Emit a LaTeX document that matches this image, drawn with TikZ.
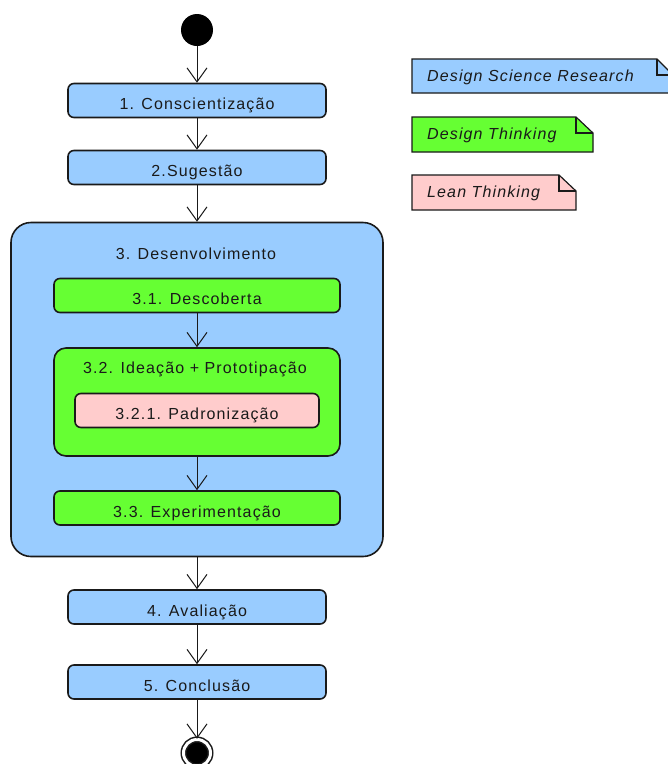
\documentclass[tikz,border=0pt]{standalone}
\usepackage{fontspec}
\setmainfont{Liberation Sans}[LetterSpace=7]
\usetikzlibrary{arrows.meta}
\definecolor{dsrblue}{HTML}{99CCFF}
\definecolor{dtgreen}{HTML}{66FF33}
\definecolor{ltpink}{HTML}{FFCCCC}
\definecolor{ink}{HTML}{1A1A1A}
\tikzset{
  act/.style={draw=ink, line width=1.6pt, rounded corners=6pt, minimum height=34pt,
    inner sep=0pt, text height=18pt, text depth=0pt, text=ink, font=\fontsize{16}{19}\selectfont},
  dsract/.style={act, fill=dsrblue, minimum width=258pt},
  dtact/.style={act, fill=dtgreen, minimum width=286pt},
  ltact/.style={act, fill=ltpink, minimum width=244pt},
  caption/.style={inner sep=0pt, text height=12pt, text depth=0pt, text=ink, font=\fontsize{16}{19}\selectfont},
  notebox/.style={draw=ink, line width=1.2pt},
  notetext/.style={anchor=west, inner sep=0pt, text height=11pt, text depth=0pt, text=ink,
    font=\fontsize{16}{19}\selectfont\itshape},
  flow/.style={-{Straight Barb[length=14pt,width=20pt]}, line width=1pt, draw=ink}
}
\begin{document}
\begin{tikzpicture}[x=1pt,y=-1pt]
\useasboundingbox (0,0) rectangle (668,764);
\fill[white] (0,0) rectangle (668,764);
\clip (0,0) rectangle (668,764);
% initial and final states
\node[circle, fill=black, minimum size=32pt, inner sep=0pt] (start) at (197,30) {};
\node[circle, draw=ink, fill=black, line width=1.5pt, double=white, double distance=3pt,
  minimum size=27pt, inner sep=0pt] (stop) at (197,753) {};
% activities
\node[dsract] (consc) at (197,100.5) {1. Conscientização};
\node[dsract] (suges) at (197,167.5) {2.Sugestão};
\node[dsract, minimum width=372pt, minimum height=334pt, rounded corners=20pt] (desenv) at (197,389.5) {};
\node[caption] (desenvtitle) at (196,253) {3. Desenvolvimento};
\node[dtact] (descob) at (197,295.5) {3.1. Descoberta};
\node[dtact, minimum height=108pt, rounded corners=12pt] (ideacao) at (197,402) {};
\node[caption] (ideacaotitle) at (195,367) {3.2. Ideação + Prototipação};
\node[ltact] (padron) at (197,410.5) {3.2.1. Padronização};
\node[dtact] (experim) at (197,508) {3.3. Experimentação};
\node[dsract] (aval) at (197,607) {4. Avaliação};
\node[dsract] (concl) at (197,682) {5. Conclusão};
% flow
\draw[flow] (start) -- (consc);
\draw[flow] (consc) -- (suges);
\draw[flow] (suges) -- (desenv);
\draw[flow] (descob) -- (ideacao);
\draw[flow] (ideacao) -- (experim);
\draw[flow] (desenv) -- (aval);
\draw[flow] (aval) -- (concl);
\draw[flow] (concl) -- (stop);
% legend
\filldraw[notebox, fill=dsrblue] (412,59) -- (657,59) -- (673,75) -- (673,93) -- (412,93) -- cycle;
\draw[notebox] (657,59) -- (657,75) -- (673,75);
\node[notetext] (dsrnote) at (427,76) {Design Science Research};
\filldraw[notebox, fill=dtgreen] (412,117) -- (576,117) -- (593,133) -- (593,152) -- (412,152) -- cycle;
\draw[notebox] (576,117) -- (576,133) -- (593,133);
\node[notetext] (dtnote) at (427,134) {Design Thinking};
\filldraw[notebox, fill=ltpink] (412,175) -- (559,175) -- (576,191) -- (576,210) -- (412,210) -- cycle;
\draw[notebox] (559,175) -- (559,191) -- (576,191);
\node[notetext] (ltnote) at (427,192) {Lean Thinking};
\end{tikzpicture}
\end{document}
